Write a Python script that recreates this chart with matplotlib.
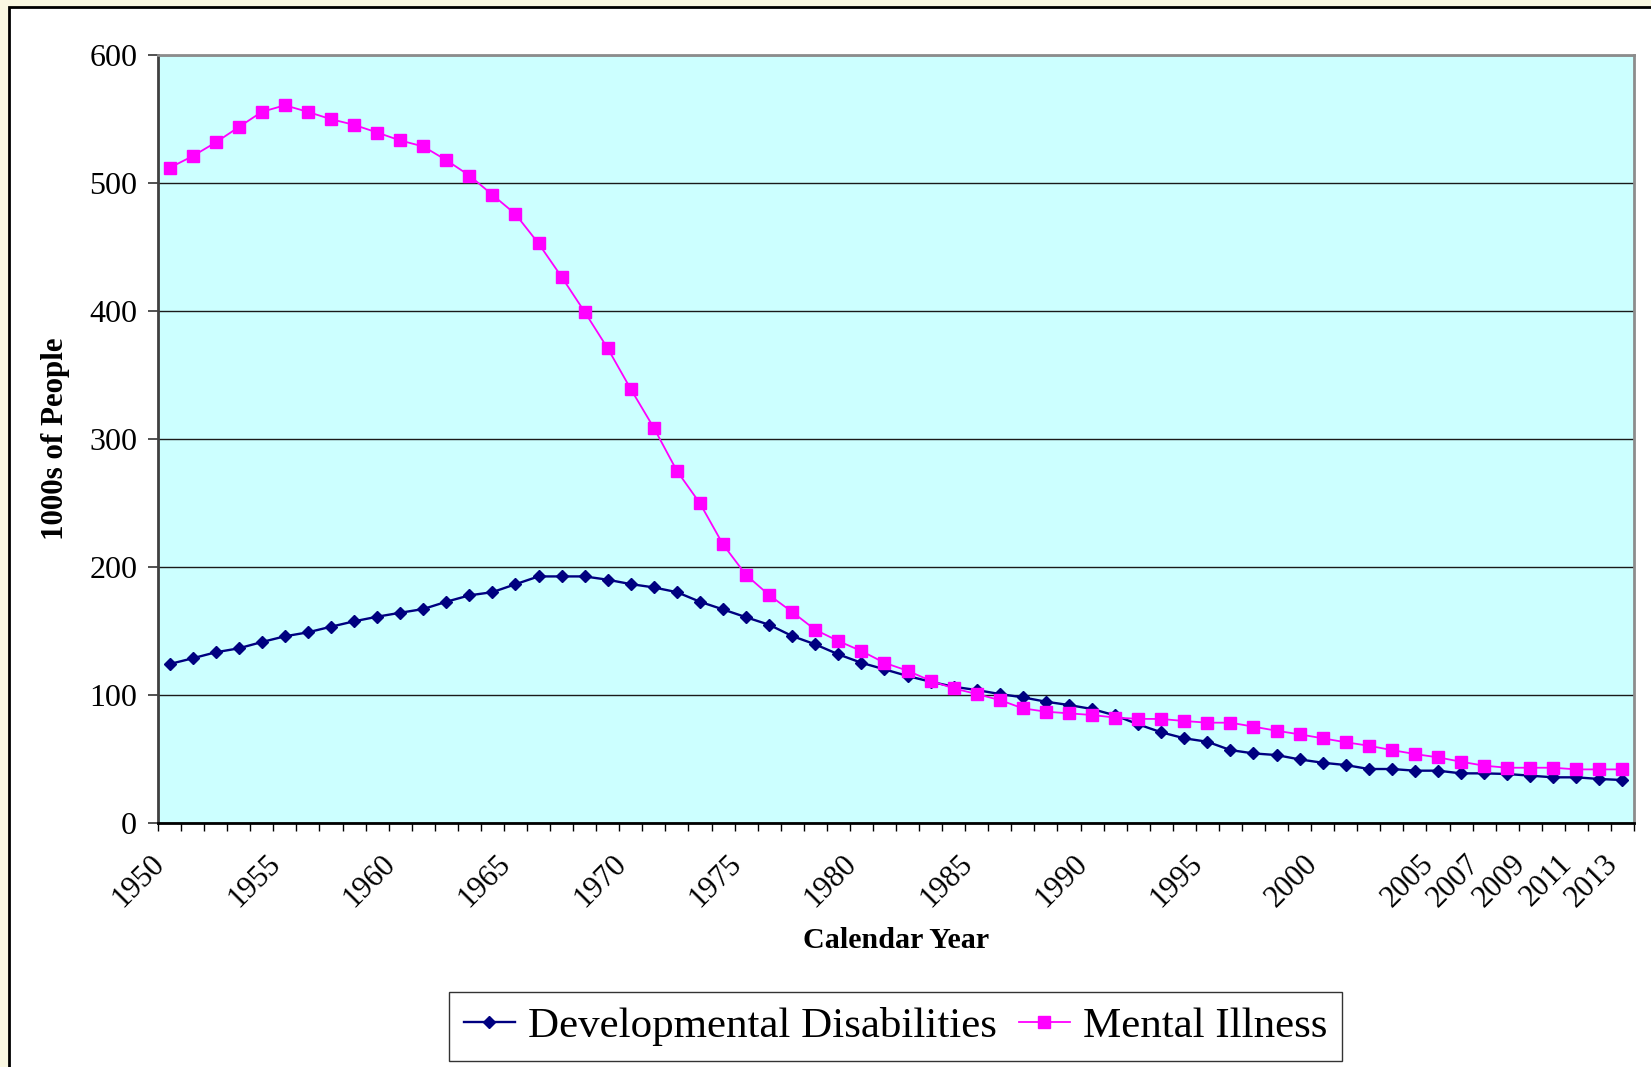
import matplotlib; matplotlib.use("Agg")
import matplotlib.pyplot as plt
from matplotlib.patches import Rectangle
from matplotlib.transforms import ScaledTranslation
import numpy as np

years = list(range(1950, 2014))
labeled_years = [1950, 1955, 1960, 1965, 1970, 1975, 1980, 1985, 1990, 1995,
                 2000, 2005, 2007, 2009, 2011, 2013]

# thousands of people, one value per calendar year
developmental = [123.8, 128.3, 133.0, 136.1, 141.0, 145.5, 148.6, 153.0, 157.2, 160.8,
                 163.9, 166.8, 172.5, 177.5, 180.0, 186.2, 192.3, 192.3, 192.3, 189.7,
                 186.3, 183.7, 180.0, 172.5, 166.5, 160.4, 154.5, 145.7, 139.2, 131.4,
                 124.8, 119.7, 114.5, 110.0, 106.1, 103.5, 100.4, 97.8, 94.4, 91.8,
                 88.7, 83.7, 76.7, 70.5, 65.8, 63.1, 56.6, 54.0, 52.7, 49.3,
                 46.7, 44.9, 41.8, 41.8, 40.5, 40.5, 38.4, 38.4, 37.9, 36.6,
                 35.3, 35.3, 34.0, 33.2]
mental = [511.6, 520.7, 531.4, 543.4, 555.3, 560.5, 555.3, 549.6, 545.2, 539.2,
          533.0, 528.3, 517.6, 505.6, 490.5, 475.4, 452.5, 426.4, 399.0, 370.5,
          338.7, 308.4, 274.8, 249.4, 217.3, 193.4, 177.7, 164.5, 150.6, 141.8,
          134.0, 124.8, 118.6, 110.8, 104.8, 100.4, 95.7, 89.2, 86.6, 85.3,
          84.0, 82.0, 81.0, 80.9, 79.3, 78.0, 78.0, 74.9, 71.7, 68.9,
          65.8, 62.7, 60.0, 56.6, 53.5, 50.9, 47.5, 44.4, 42.8, 42.8,
          42.8, 41.5, 41.5, 41.5]

plt.rcParams["font.family"] = ["Liberation Serif", "DejaVu Serif"]

fig = plt.figure(figsize=(16.51, 10.67), dpi=100, facecolor="#faf8e2")
# white chart sheet with a black frame on the left and top
fig.patches.append(Rectangle((9 / 1651, -0.02), 1.05, 1 - 7 / 1067 + 0.02,
                             transform=fig.transFigure, facecolor="white",
                             edgecolor="black", linewidth=2, zorder=-5))

ax = fig.add_axes([158 / 1651, 1 - 822.5 / 1067, (1634 - 158) / 1651, (822.5 - 54.7) / 1067])
ax.set_facecolor("#ccffff")

x = np.arange(len(years))
ax.plot(x, developmental, color="#000080", marker="D", markersize=6.4, linewidth=1.7,
        label="Developmental Disabilities", zorder=3)
ax.plot(x, mental, color="#ff00ff", marker="s", markersize=8, linewidth=1.3,
        label="Mental Illness", zorder=4)

ax.set_xlim(-0.5, len(years) - 0.5)
ax.set_ylim(0, 600)
ax.set_yticks(range(0, 601, 100))
ax.yaxis.grid(True, color="#1a1a1a", linewidth=1.0)
ax.set_axisbelow(True)

ax.set_xticks([years.index(y) for y in labeled_years])
ax.set_xticklabels([str(y) for y in labeled_years], rotation=45, ha="right",
                   va="center", rotation_mode="anchor")
ax.set_xticks(np.arange(-0.5, len(years)), minor=True)
ax.tick_params(axis="x", which="major", length=0, pad=24, labelsize=22)
ax.tick_params(axis="x", which="minor", length=6, width=1, color="black", direction="out")
ax.tick_params(axis="y", length=7, width=1.2, pad=8, labelsize=23, color="#333333")

# nudge the slanted year labels down and to the left
shift = ScaledTranslation(-9 / 100, -4 / 100, fig.dpi_scale_trans)
for lbl in ax.get_xticklabels():
    lbl.set_transform(lbl.get_transform() + shift)

for side in ("top", "right"):
    ax.spines[side].set_color("#8c8c8c")
    ax.spines[side].set_linewidth(2)
ax.spines["left"].set_color("#404040")
ax.spines["left"].set_linewidth(2)
ax.spines["bottom"].set_color("black")
ax.spines["bottom"].set_linewidth(2)

ax.set_xlabel("Calendar Year", fontsize=21.6, fontweight="bold", va="center")
ax.xaxis.set_label_coords(0.5, -(940 - 822.5) / 767.8)
ax.set_ylabel("1000s of People", fontsize=22.3, fontweight="bold", va="center")
ax.yaxis.set_label_coords(-(158 - 56) / 1476, 0.5)

leg = fig.legend(loc="center", bbox_to_anchor=(895.5 / 1651, 1 - 1026.5 / 1067), ncol=2,
                 fontsize=31, frameon=True, fancybox=False, shadow=False,
                 handlelength=1.2, handletextpad=0.3, columnspacing=0.5,
                 borderpad=0.34, borderaxespad=0)
leg.get_frame().set_edgecolor("black")
leg.get_frame().set_linewidth(1)

fig.savefig("out.png", dpi=100, facecolor=fig.get_facecolor())
